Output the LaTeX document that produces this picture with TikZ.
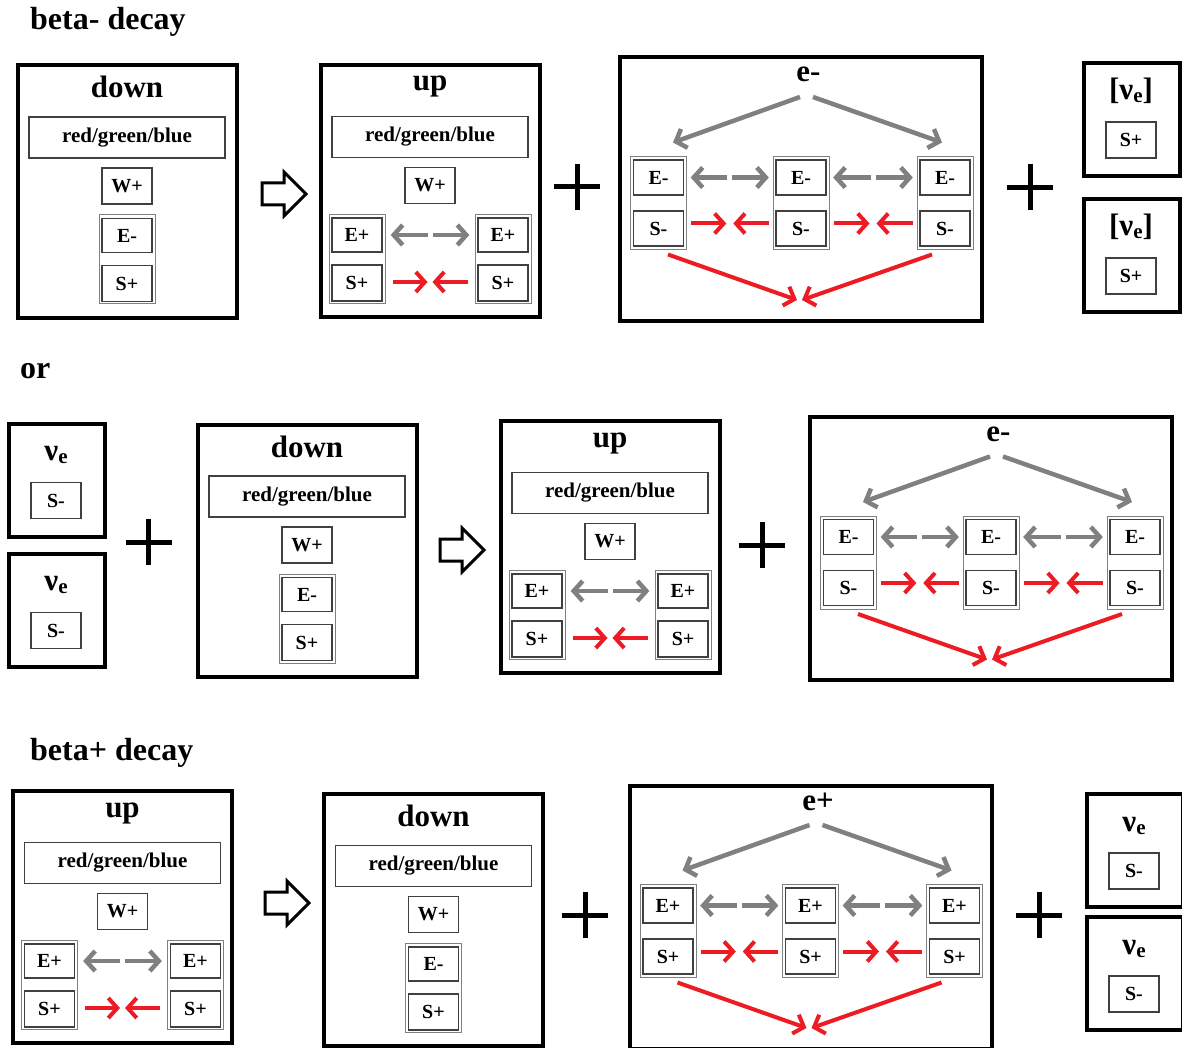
\documentclass[tikz,border=0pt]{standalone}
\usepackage{fontspec}
\setmainfont{Liberation Serif}
\usetikzlibrary{arrows.meta, shapes.arrows}
\definecolor{FlowGray}{RGB}{128,128,128}
\definecolor{FlowRed}{RGB}{237,28,36}
\newcommand{\nue}{ν\raisebox{-3pt}{\fontsize{21}{21}\selectfont e}}

\begin{document}
\begin{tikzpicture}[
  x=1pt, y=-1pt,
  font=\bfseries,
  heading/.style={anchor=base west, inner sep=0pt, font=\fontsize{32}{38}\selectfont\bfseries},
  caption/.style={anchor=base, inner sep=0pt, font=\fontsize{31}{37}\selectfont\bfseries},
  shell/.style 2 args={draw, line width=4pt, anchor=north west, inner sep=0pt, outer sep=0pt, minimum width=#1, minimum height=#2},
  slot/.style={draw=black!75, line width=1.3pt, minimum width=50pt, minimum height=35pt, inner sep=0pt, font=\fontsize{20}{24}\selectfont\bfseries},
  band/.style={slot, minimum width=196pt, minimum height=41pt, font=\fontsize{21}{24}\selectfont\bfseries},
  twin/.style={draw=black!50, line width=1pt, minimum width=56pt, minimum height=#1, inner sep=0pt},
  spread/.style={draw=FlowGray, line width=4.5pt, -{Straight Barb[length=9pt, width=20pt]}},
  pull/.style={draw=FlowRed, line width=4pt, -{Straight Barb[length=9pt, width=20pt]}},
  becomes/.style={single arrow, draw, line width=3pt, minimum height=44pt, inner xsep=0pt, inner ysep=9.5pt, single arrow head extend=11pt},
  pics/plus/.style={code={\draw[line width=5pt] (-23,0) -- (23,0) (0,-23) -- (0,23);}},
  pics/downquark/.style={code={
    \node[shell={219pt}{252pt}] (-box) at (0,0) {};
    \node[caption] (-name) at (109.5,32.5) {down};
    \node[band] (-rgb) at (109.5,72) {red/green/blue};
    \node[slot, minimum height=36pt] (-w) at (109.5,120.5) {W+};
    \node[twin=89pt] (-p) at (109.5,194) {};
    \node[slot, minimum height=34pt] (-e) at (109.5,170) {E-};
    \node[slot, minimum height=36pt] (-s) at (109.5,218) {S+};
  }},
  pics/upquark/.style={code={
    \node[shell={219pt}{252pt}] (-box) at (0,0) {};
    \node[caption] (-name) at (109.5,26) {up};
    \node[band] (-rgb) at (109.5,72) {red/green/blue};
    \node[slot, minimum height=36pt] (-w) at (109.5,120.5) {W+};
    \node[twin=89pt] (-lp) at (36.5,194) {};
    \node[slot, minimum height=34pt] (-le) at (36.5,170) {E+};
    \node[slot, minimum height=36pt] (-ls) at (36.5,218) {S+};
    \node[twin=89pt] (-rp) at (182.5,194) {};
    \node[slot, minimum height=34pt] (-re) at (182.5,170) {E+};
    \node[slot, minimum height=36pt] (-rs) at (182.5,218) {S+};
    \coordinate (-g) at (109.5,170);
    \coordinate (-r) at (109.5,217);
    \draw[spread, shorten >=8pt] ([xshift=-2.5pt]-g) -- (-le);
    \draw[spread, shorten >=8pt] ([xshift=2.5pt]-g) -- (-re);
    \draw[pull, shorten <=7pt] (-lp.east |- -r) -- ([xshift=-2.5pt]-r);
    \draw[pull, shorten <=7pt] (-rp.west |- -r) -- ([xshift=2.5pt]-r);
  }},
  pics/lepton/.style n args={3}{code={
    \node[shell={362pt}{263pt}] (-box) at (0,0) {};
    \node[caption] (-name) at (188.5,24.5) {#1};
    \foreach \k/\x in {a/38.5, b/181, c/325}{
      \node[twin=93pt] (-\k) at (\x,145.5) {};
      \node[slot] (-\k e) at (\x,120) {#2};
      \node[slot] (-\k s) at (\x,171) {#3};
    }
    \coordinate (-top) at (186.5,39.5);
    \coordinate (-bot) at (179.5,242.5);
    \draw[spread] ([xshift=-6.5pt]-top) -- ([shift={(14.5,-13.5)}]-a.north);
    \draw[spread] ([xshift=6.5pt]-top) -- ([shift={(-3,-13.5)}]-c.north);
    \foreach \l/\r/\m/\x in {a/b/1/109.8, b/c/2/253}{
      \coordinate (-g\m) at (\x,120);
      \coordinate (-r\m) at (\x,166);
      \draw[spread, shorten >=6.5pt] ([xshift=-2.5pt]-g\m) -- (-\l e);
      \draw[spread, shorten >=6.5pt] ([xshift=2.5pt]-g\m) -- (-\r e);
      \draw[pull, shorten <=4pt] (-\l.east |- -r\m) -- ([xshift=-3.5pt]-r\m);
      \draw[pull, shorten <=4pt] (-\r.west |- -r\m) -- ([xshift=3.5pt]-r\m);
    }
    \draw[pull] ([shift={(9.5,4.5)}]-a.south) -- ([xshift=-2.5pt]-bot);
    \draw[pull] ([shift={(-13,4.5)}]-c.south) -- ([xshift=2.5pt]-bot);
  }},
  pics/neutrino/.style 2 args={code={
    \node[shell={96pt}{113pt}] (-box) at (0,0) {};
    \node[caption] (-name) at (47,37) {#1};
    \node[slot, minimum height=36pt] (-s) at (47,77) {#2};
  }}
  ]
\path[use as bounding box, fill=white] (0,0) rectangle (1182,1048);

% Row 1: beta- decay
\node[heading] (betaminus) at (30,30) {beta- decay};
\pic (dq1) at (17.5,65.5) {downquark};
\node[becomes] (to1) at (278.5,194) {};
\pic (uq1) at (320.5,65) {upquark};
\pic (pl1) at (577,187) {plus};
\pic (em1) at (620,57.5) {lepton={e-}{E-}{S-}};
\pic (pl2) at (1030,187.5) {plus};
\pic (an1) at (1084,63) {neutrino={[\nue]}{S+}};
\pic (an2) at (1084,199) {neutrino={[\nue]}{S+}};

% Row 2: neutrino capture
\node[heading] (alt) at (20,378) {or};
\pic (nu1) at (9,423.5) {neutrino={\nue}{S-}};
\pic (nu2) at (9,553.5) {neutrino={\nue}{S-}};
\pic (pl3) at (148.5,542) {plus};
\pic (dq2) at (197.5,424.5) {downquark};
\node[becomes] (to2) at (456.5,550) {};
\pic (uq2) at (500.5,421) {upquark};
\pic (pl4) at (762,545) {plus};
\pic (em2) at (810,417) {lepton={e-}{E-}{S-}};

% Row 3: beta+ decay
\node[heading] (betaplus) at (30,760) {beta+ decay};
\pic (uq3) at (13,791) {upquark};
\node[becomes] (to3) at (281.5,903) {};
\pic (dq3) at (324,794) {downquark};
\pic (pl5) at (585,915) {plus};
\pic (ep) at (629.5,785.5) {lepton={e+}{E+}{S+}};
\pic (pl6) at (1039,915) {plus};
\pic (nu3) at (1087,794) {neutrino={\nue}{S-}};
\pic (nu4) at (1087,917) {neutrino={\nue}{S-}};
\end{tikzpicture}
\end{document}
